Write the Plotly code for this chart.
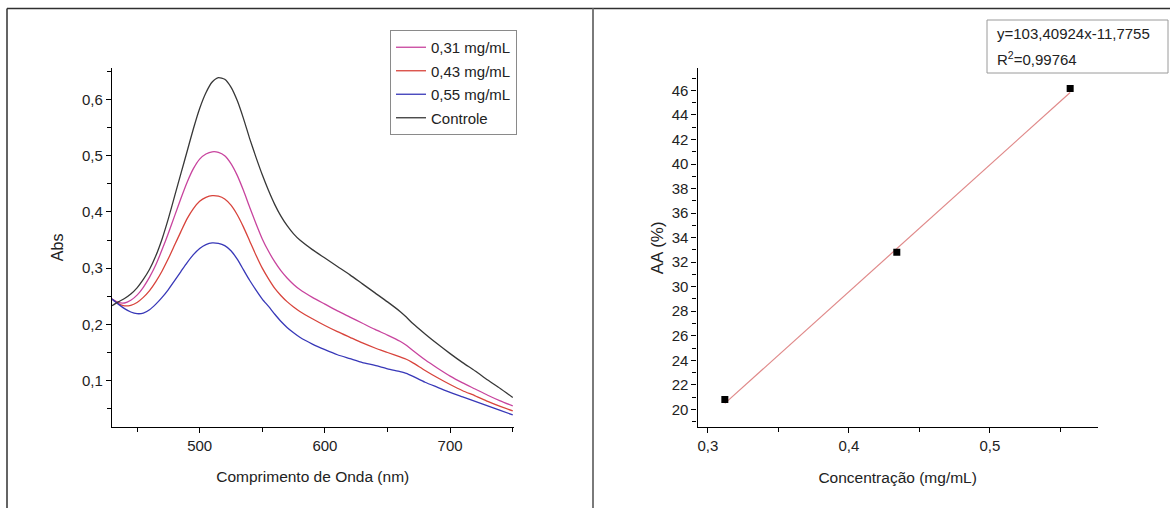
import plotly.graph_objects as go

W, H = 1170, 508

# ---------------- data: left chart (UV-Vis spectra) ----------------
wavelength = [430, 435, 440, 445, 450, 455, 460, 465, 470, 475, 480, 485, 490, 495,
              500, 505, 510, 515, 520, 525, 530, 535, 540, 545, 550, 555, 560, 565,
              570, 575, 580, 590, 600, 610, 620, 630, 640, 650, 660, 665, 670, 680,
              690, 700, 710, 720, 730, 740, 750]

abs_031 = [.245, .239, .238, .243, .252, .266, .284, .306, .333, .362, .393, .424, .453, .477,
           .494, .503, .507, .506, .500, .486, .465, .438, .408, .379, .352, .330, .311, .295,
           .282, .271, .262, .248, .236, .224, .213, .202, .191, .181, .170, .163, .154, .137,
           .122, .108, .096, .085, .074, .064, .055]

abs_043 = [.245, .237, .233, .234, .239, .248, .260, .276, .295, .317, .341, .365, .388, .406,
           .419, .426, .429, .428, .423, .412, .395, .373, .348, .323, .300, .281, .264, .251,
           .240, .231, .223, .210, .198, .187, .177, .167, .158, .150, .142, .138, .132, .118,
           .105, .093, .082, .073, .063, .054, .046]

abs_055 = [.245, .236, .228, .222, .219, .220, .226, .236, .248, .262, .278, .294, .310, .324,
           .335, .342, .345, .344, .340, .331, .316, .297, .278, .261, .245, .232, .218, .205,
           .194, .185, .177, .165, .155, .146, .139, .132, .127, .121, .116, .113, .108, .097,
           .088, .079, .071, .063, .055, .047, .039]

abs_ctrl = [.233, .240, .246, .254, .265, .280, .298, .322, .352, .388, .428, .468, .508, .548,
            .584, .612, .631, .639, .636, .622, .598, .566, .530, .497, .466, .438, .413, .392,
            .375, .361, .350, .333, .318, .303, .288, .272, .256, .240, .223, .213, .202, .183,
            .165, .148, .132, .117, .101, .086, .070]

series_names = ["0,31 mg/mL", "0,43 mg/mL", "0,55 mg/mL", "Controle"]
series_values = [abs_031, abs_043, abs_055, abs_ctrl]
series_colors = ["#c8449e", "#d8443c", "#3838b8", "#383838"]

# ---------------- data: right chart (antioxidant activity) ----------------
concentration = [0.312, 0.434, 0.557]
aa_percent = [20.8, 32.8, 46.15]
fit_slope = 103.40924
fit_intercept = -11.7755
fit_label = "y=103,40924x-11,7755"
r2_label = "R<sup>2</sup>=0,99764"

# ---------------- helpers ----------------
def px(x):
    return x / W

def py(y):
    return 1 - y / H

FONT = "Liberation Sans, Arial, sans-serif"
TXT = "#222222"

fig = go.Figure()

for name, vals, col in zip(series_names, series_values, series_colors):
    fig.add_trace(go.Scatter(
        x=wavelength, y=vals, mode="lines", name=name,
        line=dict(color=col, width=1.3, shape="spline", smoothing=0.6),
        legendgroup=name, xaxis="x", yaxis="y"))

fit_x = [concentration[0], concentration[-1]]
fit_y = [fit_slope * v + fit_intercept for v in fit_x]
fig.add_trace(go.Scatter(
    x=fit_x, y=fit_y, mode="lines", showlegend=False,
    line=dict(color="#e08a8a", width=1.2), xaxis="x2", yaxis="y2"))
fig.add_trace(go.Scatter(
    x=concentration, y=aa_percent, mode="markers", showlegend=False,
    marker=dict(symbol="square", size=7, color="black"), xaxis="x2", yaxis="y2"))

axis_common = dict(
    showline=True, linecolor="black", linewidth=1.3, mirror=False,
    showgrid=False, zeroline=False, ticks="outside", ticklen=5, tickwidth=1.2,
    tickcolor="black", tickfont=dict(family=FONT, size=15, color=TXT),
)

fig.update_layout(
    width=W, height=H,
    margin=dict(l=0, r=0, t=0, b=0),
    paper_bgcolor="white", plot_bgcolor="white",
    separators=", ",
    font=dict(family=FONT, size=15, color=TXT),
    xaxis=dict(**axis_common, domain=[px(112), px(513.5)], range=[430, 750.6],
               tick0=0, dtick=100,
               minor=dict(ticks="outside", ticklen=4, tickcolor="black", dtick=50, tick0=0),
               title=dict(text="Comprimento de Onda (nm)", standoff=18,
                          font=dict(family=FONT, size=15.5, color=TXT)),
               anchor="y"),
    yaxis=dict(**axis_common, domain=[py(426.7), py(68)], range=[0.018, 0.656],
               tick0=0, dtick=0.1, tickformat=".1f",
               minor=dict(ticks="outside", ticklen=4, tickcolor="black", dtick=0.05, tick0=0),
               title=dict(text="Abs", standoff=14,
                          font=dict(family=FONT, size=16, color=TXT)),
               anchor="x"),
    xaxis2=dict(**axis_common, domain=[px(697.5), px(1097.8)], range=[0.2926, 0.5766],
                tick0=0, dtick=0.1, tickformat=".1f",
                minor=dict(ticks="outside", ticklen=4, tickcolor="black", dtick=0.05, tick0=0),
                title=dict(text="Concentração (mg/mL)", standoff=18,
                           font=dict(family=FONT, size=15.5, color=TXT)),
                anchor="y2"),
    yaxis2=dict(**axis_common, domain=[py(427.3), py(68.3)], range=[18.54, 47.8],
                tick0=0, dtick=2,
                minor=dict(ticks="outside", ticklen=4, tickcolor="black", dtick=1, tick0=0),
                title=dict(text="AA (%)", standoff=3,
                           font=dict(family=FONT, size=17, color=TXT)),
                anchor="x2"),
    legend=dict(x=px(390), y=py(30), xanchor="left", yanchor="top",
                bgcolor="white", bordercolor="#8a8a8a", borderwidth=1,
                font=dict(family=FONT, size=15, color=TXT),
                traceorder="grouped", tracegroupgap=1),
    showlegend=True,
)

# outer frame lines and equation box
shapes = [
    dict(type="line", xref="paper", yref="paper", x0=px(7), x1=1, y0=py(8.5), y1=py(8.5),
         line=dict(color="#303030", width=1.5)),
    dict(type="line", xref="paper", yref="paper", x0=px(7), x1=px(7), y0=0, y1=py(8.5),
         line=dict(color="#303030", width=1.5)),
    dict(type="line", xref="paper", yref="paper", x0=px(593), x1=px(593), y0=0, y1=py(8.5),
         line=dict(color="#7a7a7a", width=2)),
    dict(type="rect", xref="paper", yref="paper", x0=px(987), x1=px(1168), y0=py(73), y1=py(20),
         line=dict(color="#9a9a9a", width=1), fillcolor="white"),
]
fig.update_layout(shapes=shapes)

fig.add_annotation(x=px(995), y=py(34), xref="paper", yref="paper", text=fit_label,
                   showarrow=False, xanchor="left", yanchor="middle",
                   font=dict(family=FONT, size=15, color=TXT))
fig.add_annotation(x=px(995), y=py(58), xref="paper", yref="paper", text=r2_label,
                   showarrow=False, xanchor="left", yanchor="middle",
                   font=dict(family=FONT, size=15, color=TXT))

fig.write_html("out.html",
               config={"displayModeBar": False},
               post_script="document.body.style.margin='0';document.body.style.padding='0';")
